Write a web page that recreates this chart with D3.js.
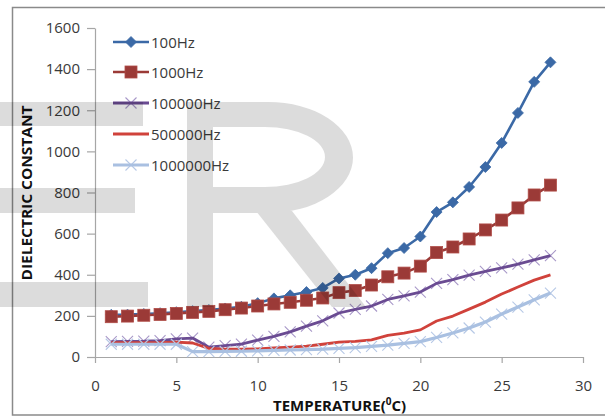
<!DOCTYPE html>
<html>
<head>
<meta charset="utf-8">
<script src="https://cdn.jsdelivr.net/npm/d3@7"></script>
<style>
  html, body { margin: 0; padding: 0; background: #fff; }
  svg { display: block; }
</style>
</head>
<body>
<svg id="chart" width="605" height="419"></svg>
<script>
// ---- data ----
const temperature = [1,2,3,4,5,6,7,8,9,10,11,12,13,14,15,16,17,18,19,20,21,22,23,24,25,26,27,28];
const seriesNames = ["100Hz", "1000Hz", "100000Hz", "500000Hz", "1000000Hz"];
const hz100     = [205,206,209,213,218,223,228,236,244,262,285,300,316,336,382,400,432,505,530,586,705,752,827,924,1041,1187,1338,1433];
const hz1000    = [196,199,203,207,212,217,222,230,238,248,258,266,276,287,313,323,350,390,408,442,508,535,574,618,666,725,788,836];
const hz100000  = [75,76,77,80,88,92,48,55,63,82,100,122,150,176,214,232,248,280,297,316,358,376,398,416,433,452,472,493];
const hz500000  = [70,70,70,70,72,68,42,38,38,40,44,48,53,62,72,76,83,105,116,132,175,199,233,267,306,340,374,399];
const hz1000000 = [62,62,62,62,62,26,26,27,28,30,32,34,36,38,42,46,52,58,66,75,95,117,141,170,209,243,278,311];
const xTicks = [0,5,10,15,20,25,30];
const yTicks = [0,200,400,600,800,1000,1200,1400,1600];

const svg = d3.select("#chart");
const font = "'Open Sans', 'Liberation Sans', sans-serif";

// outer frame
svg.append("rect").attr("x", 12.5).attr("y", 7.5).attr("width", 620).attr("height", 407.5)
  .attr("fill", "none").attr("stroke", "#8a8a8a").attr("stroke-width", 1.5);

const x = d3.scaleLinear().domain([0, 30]).range([95, 583]);
const y = d3.scaleLinear().domain([0, 1600]).range([357, 28]);

// axes
const axisColor = "#a6a6a6";
const gx = svg.append("g").attr("transform", `translate(0,${y(0)})`)
  .call(d3.axisBottom(x).tickValues(xTicks).tickFormat(d3.format("d")).tickSize(6).tickPadding(17).tickSizeOuter(0));
const gy = svg.append("g").attr("transform", `translate(${x(0)},0)`)
  .call(d3.axisLeft(y).tickValues(yTicks).tickFormat(d3.format("d")).tickSize(8).tickPadding(7).tickSizeOuter(0));
[gx, gy].forEach(g => {
  g.select(".domain").attr("stroke", axisColor).attr("stroke-width", 1.2);
  g.selectAll(".tick line").attr("stroke", axisColor).attr("stroke-width", 1.2);
  g.selectAll(".tick text").attr("fill", "#3a3a3a").style("font-family", font).style("font-size", "15px");
});

// axis titles
svg.append("text")
  .attr("transform", "translate(32,193) rotate(-90)")
  .attr("text-anchor", "middle")
  .attr("textLength", 175).attr("lengthAdjust", "spacingAndGlyphs")
  .style("font-family", font).style("font-size", "15px").style("font-weight", "bold")
  .attr("fill", "#111").text("DIELECTRIC CONSTANT");

const xt = svg.append("text")
  .attr("x", 273).attr("y", 411)
  .style("font-family", font).style("font-size", "15px").style("font-weight", "bold")
  .attr("fill", "#111");
xt.append("tspan").text("TEMPERATURE(");
xt.append("tspan").attr("dy", -6).style("font-size", "10px").text("0");
xt.append("tspan").attr("dy", 6).text("C)");

// series definitions
const series = [
  { name: seriesNames[0], values: hz100,     color: "#3b69a6", width: 2.6, marker: "diamond", mcolor: "#3b69a6" },
  { name: seriesNames[1], values: hz1000,    color: "#9b3a37", width: 2.6, marker: "square",  mcolor: "#9b3a37" },
  { name: seriesNames[2], values: hz100000,  color: "#6a4b92", width: 2.8, marker: "x",       mcolor: "#a898c8" },
  { name: seriesNames[3], values: hz500000,  color: "#d0423b", width: 2.8, marker: "none",    mcolor: "#d0423b" },
  { name: seriesNames[4], values: hz1000000, color: "#a9c0e1", width: 3.2, marker: "x",       mcolor: "#b6c8e6" }
];

const line = d3.line().x((d, i) => x(temperature[i])).y(d => y(d));

function drawMarker(g, type, cx, cy, color) {
  if (type === "diamond") {
    g.append("path").attr("d", `M${cx},${cy-5.5}L${cx+5.5},${cy}L${cx},${cy+5.5}L${cx-5.5},${cy}Z`)
      .attr("fill", color).attr("stroke", color).attr("stroke-width", 0.8);
  } else if (type === "square") {
    g.append("rect").attr("x", cx - 6).attr("y", cy - 6).attr("width", 12).attr("height", 12)
      .attr("fill", color).attr("stroke", "#b04c47").attr("stroke-width", 0.8);
  } else if (type === "x") {
    const s = 5.5;
    g.append("path").attr("d", `M${cx-s},${cy-s}L${cx+s},${cy+s}M${cx-s},${cy+s}L${cx+s},${cy-s}`)
      .attr("stroke", color).attr("stroke-width", 1.1).attr("fill", "none");
  }
}

// draw in series order (later series on top, as in the original)
const plot = svg.append("g");
series.forEach(s => {
  const g = plot.append("g");
  if (s.marker === "x") {
    const mg = g.append("g");
    s.values.forEach((v, i) => drawMarker(mg, s.marker, x(temperature[i]), y(v), s.mcolor));
  }
  g.append("path").datum(s.values).attr("d", line)
    .attr("fill", "none").attr("stroke", s.color).attr("stroke-width", s.width)
    .attr("stroke-linejoin", "round");
  if (s.marker === "diamond" || s.marker === "square") {
    s.values.forEach((v, i) => drawMarker(g, s.marker, x(temperature[i]), y(v), s.mcolor));
  }
});

// legend
const legendY = [42, 72, 103, 134, 165];
const lg = svg.append("g");
series.forEach((s, i) => {
  const cy = legendY[i];
  if (s.marker === "x") drawMarker(lg, "x", 131, cy, s.mcolor);
  lg.append("line").attr("x1", 113).attr("x2", 149).attr("y1", cy).attr("y2", cy)
    .attr("stroke", s.color).attr("stroke-width", s.width);
  if (s.marker === "diamond" || s.marker === "square") drawMarker(lg, s.marker, 131, cy, s.mcolor);
  lg.append("text").attr("x", 151).attr("y", cy + 5.5)
    .style("font-family", font).style("font-size", "15px").attr("fill", "#3a3a3a").text(s.name);
});

// watermark overlay
const wm = svg.append("g").attr("opacity", 0.135);
wm.append("rect").attr("x", 0).attr("y", 102).attr("width", 143).attr("height", 24);
wm.append("rect").attr("x", 0).attr("y", 188).attr("width", 135).attr("height", 25);
wm.append("rect").attr("x", 0).attr("y", 282).attr("width", 148).attr("height", 25);
wm.append("path").attr("fill-rule", "evenodd")
  .attr("d", "M187,102H268A85,55.5 0 0 1 268,213H213V307H187Z M213,127H265A60,30 0 0 1 265,187H213Z");
wm.append("path").attr("d", "M256,211L292,211L366,307L332,307Z");
</script>
</body>
</html>
